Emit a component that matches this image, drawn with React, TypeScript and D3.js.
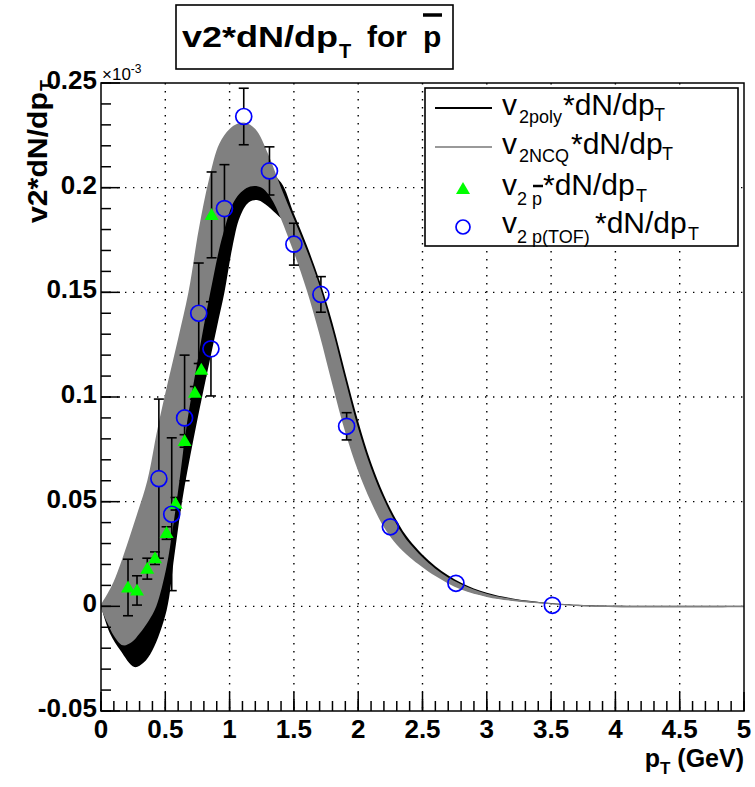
import React from 'react';
import * as d3 from 'd3';

// ---------- data (values in units of 1e-3) ----------
const xTickValues = [0, 0.5, 1, 1.5, 2, 2.5, 3, 3.5, 4, 4.5, 5];
const xTickLabels = ['0', '0.5', '1', '1.5', '2', '2.5', '3', '3.5', '4', '4.5', '5'];
const yTickValues = [-0.05, 0, 0.05, 0.1, 0.15, 0.2, 0.25];
const yTickLabels = ['-0.05', '0', '0.05', '0.1', '0.15', '0.2', '0.25'];

// v2NCQ band (grey): upper and lower edges
const ncqUpperPt = [0, 0.05, 0.1, 0.15, 0.2, 0.28, 0.36, 0.44, 0.52, 0.6, 0.68, 0.76, 0.84, 0.92, 1.0, 1.06, 1.12, 1.2, 1.3, 1.4, 1.5, 1.6, 1.7, 1.8, 1.9, 2.0, 2.1, 2.2, 2.3, 2.4, 2.6, 2.8, 3.0, 3.2, 3.5, 3.8, 4.2, 5.0];
const ncqUpperVal = [0.001, 0.006, 0.012, 0.02, 0.029, 0.044, 0.06, 0.085, 0.107, 0.128, 0.15, 0.18, 0.204, 0.221, 0.228, 0.2305, 0.231, 0.228, 0.216, 0.2, 0.185, 0.17, 0.153, 0.132, 0.108, 0.085, 0.066, 0.051, 0.039, 0.03, 0.018, 0.0105, 0.006, 0.0035, 0.0015, 0.0005, 0.0004, 0.0004];
const ncqLowerPt = [0, 0.05, 0.1, 0.17, 0.24, 0.3, 0.37, 0.43, 0.51, 0.56, 0.61, 0.67, 0.75, 0.85, 0.95, 1.05, 1.16, 1.25, 1.3, 1.35, 1.4, 1.5, 1.6, 1.7, 1.8, 1.9, 2.0, 2.1, 2.2, 2.3, 2.4, 2.6, 2.8, 3.0, 3.2, 3.5, 3.84, 5.0];
const ncqLowerVal = [-0.001, -0.008, -0.014, -0.0186, -0.017, -0.013, -0.007, 0.0, 0.019, 0.038, 0.06, 0.088, 0.117, 0.15, 0.178, 0.195, 0.2005, 0.2, 0.197, 0.192, 0.185, 0.169, 0.151, 0.1296, 0.1057, 0.083, 0.0645, 0.0498, 0.0378, 0.0294, 0.0235, 0.0145, 0.008, 0.0045, 0.0026, 0.001, -0.0003, -0.0004];

// v2poly band (black): upper and lower edges
const polyUpperPt = [0, 0.1, 0.2, 0.3, 0.4, 0.5, 0.6, 0.7, 0.8, 0.9, 1.0, 1.1, 1.2, 1.3, 1.4, 1.5, 1.6, 1.7, 1.8, 1.9, 2.0, 2.1, 2.2, 2.3, 2.4, 2.6, 2.8, 3.0, 3.2, 3.5, 3.8, 5.0];
const polyUpperVal = [0, 0.0, 0.002, 0.012, 0.03, 0.06, 0.09, 0.12, 0.15, 0.18, 0.197, 0.203, 0.205, 0.207, 0.2025, 0.1875, 0.1725, 0.1555, 0.1353, 0.1115, 0.0884, 0.0687, 0.0532, 0.0409, 0.0316, 0.0192, 0.0113, 0.0065, 0.0038, 0.0016, 0.0005, 0];
const polyLowerPt = [0, 0.07, 0.15, 0.26, 0.33, 0.4, 0.51, 0.57, 0.63, 0.72, 0.81, 0.9, 0.96, 1.02, 1.08, 1.15, 1.22, 1.3, 1.38, 1.45, 1.5, 1.6, 1.7, 1.8, 1.9, 2.0, 2.1, 2.2, 2.3, 2.4, 2.6, 2.8, 3.0, 3.2, 3.5, 3.8, 5.0];
const polyLowerVal = [0, -0.013, -0.021, -0.029, -0.027, -0.021, -0.002, 0.024, 0.05, 0.08, 0.107, 0.133, 0.15, 0.171, 0.186, 0.193, 0.194, 0.191, 0.1865, 0.183, 0.179, 0.164, 0.147, 0.126, 0.102, 0.079, 0.061, 0.047, 0.036, 0.027, 0.016, 0.0085, 0.0048, 0.0028, 0.0011, 0.0002, 0];

// v2 pbar (green triangles)
const pbarPt = [0.21, 0.28, 0.36, 0.42, 0.51, 0.58, 0.65, 0.73, 0.78, 0.86];
const pbarVal = [0.009, 0.0076, 0.018, 0.023, 0.035, 0.049, 0.079, 0.102, 0.113, 0.187];
const pbarErr = [0.0135, 0.007, 0.005, 0.003, 0.003, 0.003, 0.003, 0.003, 0.003, 0.0205];

// v2 p(TOF) (blue open circles)
const tofPt = [0.45, 0.55, 0.65, 0.76, 0.855, 0.96, 1.11, 1.31, 1.5, 1.71, 1.91, 2.25, 2.76, 3.51];
const tofVal = [0.061, 0.044, 0.09, 0.14, 0.123, 0.19, 0.234, 0.208, 0.173, 0.149, 0.086, 0.038, 0.011, 0.0005];
const tofErr = [0.038, 0.0365, 0.03, 0.024, 0.0225, 0.021, 0.0135, 0.0115, 0.01, 0.0085, 0.0065, 0.003, 0.002, 0.001];

const FONT = '"Liberation Sans", Arial, Helvetica, sans-serif';

export default function App() {
  const x = d3.scaleLinear().domain([0, 5]).range([101, 744]);
  const y = d3.scaleLinear().domain([-0.05, 0.25]).range([711, 83]);
  const [x0, x1] = x.range();
  const [y0, y1] = y.range();

  const line = d3
    .line<[number, number]>()
    .x((d) => x(d[0]))
    .y((d) => y(d[1]))
    .curve(d3.curveCatmullRom.alpha(0.5));

  const band = (uP: number[], uV: number[], lP: number[], lV: number[]) => {
    const up = uP.map((p, i) => [p, uV[i]] as [number, number]);
    const lo = lP.map((p, i) => [p, lV[i]] as [number, number]).reverse();
    return (line(up) || '') + (line(lo) || '').replace(/^M/, 'L') + 'Z';
  };

  const polyPath = band(polyUpperPt, polyUpperVal, polyLowerPt, polyLowerVal);
  const ncqPath = band(ncqUpperPt, ncqUpperVal, ncqLowerPt, ncqLowerVal);

  const minorX = d3.range(0, 5.0001, 0.1);
  const minorY = d3.range(-0.05, 0.2501, 0.01);
  const gridX = xTickValues.filter((v) => v > 0 && v < 5);
  const gridY = yTickValues.filter((v) => v > -0.05 && v < 0.25);

  const R = 8;
  const cap = 5;

  const errBar = (px: number, v: number, e: number, gap: number, key: string) => {
    const cx = x(px);
    const top = y(v + e);
    const bot = y(v - e);
    const cy = y(v);
    const els: any[] = [];
    if (cy - gap > top) els.push(<line key={key + 'a'} x1={cx} x2={cx} y1={top} y2={cy - gap} />);
    if (bot > cy + gap) els.push(<line key={key + 'b'} x1={cx} x2={cx} y1={cy + gap} y2={bot} />);
    if (e * 2100 > gap) {
      els.push(<line key={key + 'c'} x1={cx - cap} x2={cx + cap} y1={top} y2={top} />);
      els.push(<line key={key + 'd'} x1={cx - cap} x2={cx + cap} y1={bot} y2={bot} />);
    }
    return els;
  };

  const tri = (cx: number, cy: number) => `M${cx - 7},${cy + 5}L${cx + 7},${cy + 5}L${cx},${cy - 7}Z`;

  return (
    <svg
      width={755}
      height={787}
      viewBox="0 0 755 787"
      style={{ position: 'absolute', left: 0, top: 0, background: '#fff' }}
      fontFamily={FONT}
    >
      <rect x={0} y={0} width={755} height={787} fill="#fff" />

      {/* grid */}
      <g stroke="#000" strokeWidth={1.4} strokeDasharray="1.4 6.6">
        {gridX.map((v) => (
          <line key={'gx' + v} x1={x(v)} x2={x(v)} y1={y1} y2={y0} />
        ))}
        {gridY.map((v) => (
          <line key={'gy' + v} x1={x0} x2={x1} y1={y(v)} y2={y(v)} />
        ))}
      </g>

      {/* bands */}
      <path d={polyPath} fill="#000" />
      <path d={ncqPath} fill="#808080" />

      {/* error bars */}
      <g stroke="#000" strokeWidth={1.6}>
        {pbarPt.map((p, i) => errBar(p, pbarVal[i], pbarErr[i], 0, 'pe' + i))}
        {tofPt.map((p, i) => errBar(p, tofVal[i], tofErr[i], R, 'te' + i))}
      </g>

      {/* markers */}
      {pbarPt.map((p, i) => (
        <path key={'pm' + i} d={tri(x(p), y(pbarVal[i]))} fill="#00ff00" />
      ))}
      {tofPt.map((p, i) => (
        <circle key={'tm' + i} cx={x(p)} cy={y(tofVal[i])} r={R} fill="none" stroke="#0000ff" strokeWidth={1.7} />
      ))}

      {/* frame + ticks */}
      <g stroke="#000" strokeWidth={1.5}>
        {minorX.map((v, i) => (
          <line key={'mx' + i} x1={x(v)} x2={x(v)} y1={y0} y2={y0 - 10} />
        ))}
        {xTickValues.map((v) => (
          <line key={'Mx' + v} x1={x(v)} x2={x(v)} y1={y0} y2={y0 - 19} />
        ))}
        {minorY.map((v, i) => (
          <line key={'my' + i} x1={x0} x2={x0 + 10} y1={y(v)} y2={y(v)} />
        ))}
        {yTickValues.map((v) => (
          <line key={'My' + v} x1={x0} x2={x0 + 19} y1={y(v)} y2={y(v)} />
        ))}
        <rect x={x0} y={y1} width={x1 - x0} height={y0 - y1} fill="none" />
      </g>

      {/* tick labels */}
      <g fontSize={26} fontWeight="bold" fill="#000">
        {xTickValues.map((v, i) => (
          <text key={'xl' + v} x={x(v)} y={738} textAnchor="middle">
            {xTickLabels[i]}
          </text>
        ))}
        {yTickValues.map((v, i) => (
          <text key={'yl' + v} x={97} y={y(v) + 6} textAnchor="end">
            {yTickLabels[i]}
          </text>
        ))}
      </g>

      {/* exponent */}
      <text x={102} y={80} fontSize={17} fill="#000">
        ×10
        <tspan dy={-7} fontSize={12}>-3</tspan>
      </text>

      {/* axis titles */}
      <text x={744} y={767} fontSize={25} fontWeight="bold" textAnchor="end">
        p<tspan dy={7} fontSize={17}>T</tspan>
        <tspan dy={-7}> (GeV)</tspan>
      </text>
      <text transform="translate(47,223) rotate(-90)" fontSize={28} fontWeight="bold">
        <tspan x={0} textLength={131} lengthAdjust="spacingAndGlyphs">v2*dN/dp</tspan>
        <tspan x={132} dy={6} fontSize={18}>T</tspan>
      </text>

      {/* legend */}
      <g>
        <rect x={425} y={88} width={313} height={158} fill="#fff" stroke="#000" strokeWidth={1.6} />
        <line x1={435} x2={492} y1={108} y2={108} stroke="#000" strokeWidth={2} />
        <line x1={435} x2={492} y1={147} y2={147} stroke="#999" strokeWidth={2} />
        <path d={tri(463, 189)} fill="#00ff00" />
        <circle cx={463} cy={227} r={7} fill="none" stroke="#0000ff" strokeWidth={1.7} />
        <g fontSize={30} fill="#000">
          <text>
            <tspan x={502} y={115}>v</tspan>
            <tspan x={519} y={123} fontSize={18}>2poly</tspan>
            <tspan x={563} y={115}>*dN/dp</tspan>
            <tspan x={654} y={121} fontSize={18}>T</tspan>
          </text>
          <text>
            <tspan x={502} y={154}>v</tspan>
            <tspan x={519} y={162} fontSize={18}>2NCQ</tspan>
            <tspan x={571} y={154}>*dN/dp</tspan>
            <tspan x={662} y={160} fontSize={18}>T</tspan>
          </text>
          <text>
            <tspan x={502} y={195}>v</tspan>
            <tspan x={517} y={205} fontSize={18}>2 p</tspan>
            <tspan x={543} y={195}>*dN/dp</tspan>
            <tspan x={636} y={202} fontSize={18}>T</tspan>
          </text>
          <line x1={533} x2={543} y1={186} y2={186} stroke="#000" strokeWidth={2.5} />
          <text>
            <tspan x={502} y={233}>v</tspan>
            <tspan x={517} y={243} fontSize={18}>2 p(TOF)</tspan>
            <tspan x={595} y={233}>*dN/dp</tspan>
            <tspan x={688} y={240} fontSize={18}>T</tspan>
          </text>
        </g>
      </g>

      {/* title */}
      <rect x={176} y={5} width={277} height={64} fill="#fff" stroke="#000" strokeWidth={1.6} />
      <text fontSize={30} fontWeight="bold" fill="#000">
        <tspan x={182} y={47} textLength={156} lengthAdjust="spacingAndGlyphs">v2*dN/dp</tspan>
        <tspan x={339} y={58} fontSize={20}>T</tspan>
        <tspan x={367} y={47}>for</tspan>
        <tspan x={423} y={47}>p</tspan>
      </text>
      <line x1={423} x2={442} y1={15} y2={15} stroke="#000" strokeWidth={3.5} />
    </svg>
  );
}
